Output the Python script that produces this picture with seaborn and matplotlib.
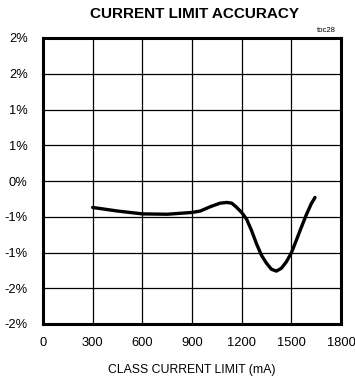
import matplotlib
matplotlib.use("Agg")
import matplotlib.pyplot as plt
import seaborn as sns
import pandas as pd
from matplotlib.ticker import FuncFormatter

# data
current_ma = [300, 450, 600, 750, 900, 950, 1010, 1070, 1110, 1140, 1168, 1200,
              1230, 1260, 1290, 1320, 1350, 1380, 1410, 1440, 1470, 1500,
              1530, 1560, 1590, 1620, 1643]
accuracy_pct = [-0.37, -0.42, -0.46, -0.465, -0.44, -0.42, -0.36, -0.31, -0.30, -0.31, -0.365, -0.44,
                -0.535, -0.695, -0.88, -1.04, -1.15, -1.235, -1.26, -1.22, -1.13, -1.005,
                -0.83, -0.65, -0.475, -0.32, -0.23]
x_ticks = [0, 300, 600, 900, 1200, 1500, 1800]
y_ticks = [-2.0, -1.5, -1.0, -0.5, 0.0, 0.5, 1.0, 1.5, 2.0]

df = pd.DataFrame({"current": current_ma, "acc": accuracy_pct})

sns.set_theme(style="white")
fam = ["Liberation Sans Narrow", "Liberation Sans", "DejaVu Sans"]
plt.rcParams["font.family"] = fam

fig = plt.figure(figsize=(3.55, 3.81), dpi=100)
ax = fig.add_axes([43/355, 57/381, 298/355, 286/381])

sns.lineplot(data=df, x="current", y="acc", ax=ax, color="black", linewidth=2.4)
ax.lines[0].set_solid_joinstyle("round")
ax.lines[0].set_solid_capstyle("round")

ax.set_xlim(0, 1800)
ax.set_ylim(-2, 2)
ax.set_xticks(x_ticks)
ax.set_yticks(y_ticks)

def pct(v, pos):
    r = int(abs(v) + 0.5) * (1 if v >= 0 else -1)
    return f"{r}%"

ax.yaxis.set_major_formatter(FuncFormatter(pct))
ax.xaxis.set_major_formatter(FuncFormatter(lambda v, p: f"{int(v)}"))
ax.grid(True, color="black", linewidth=0.9)
for s in ax.spines.values():
    s.set_visible(True)
    s.set_color("black")
    s.set_linewidth(2.2)
ax.tick_params(axis="both", length=0, labelsize=9.3, colors="black")
ax.tick_params(axis="y", pad=11)
ax.tick_params(axis="x", pad=9)

ax.set_xlabel("CLASS CURRENT LIMIT (mA)", fontsize=8.8, color="black", labelpad=11)
ax.set_ylabel("")

fig.text(194/355, 1 - 14/381, "CURRENT LIMIT ACCURACY", ha="center", va="center",
         fontsize=11, fontweight="bold", color="black")
fig.text(336/355, 1 - 30/381, "toc28", ha="right", va="center", fontsize=5.5, color="black")

fig.savefig("out.png", dpi=100)
